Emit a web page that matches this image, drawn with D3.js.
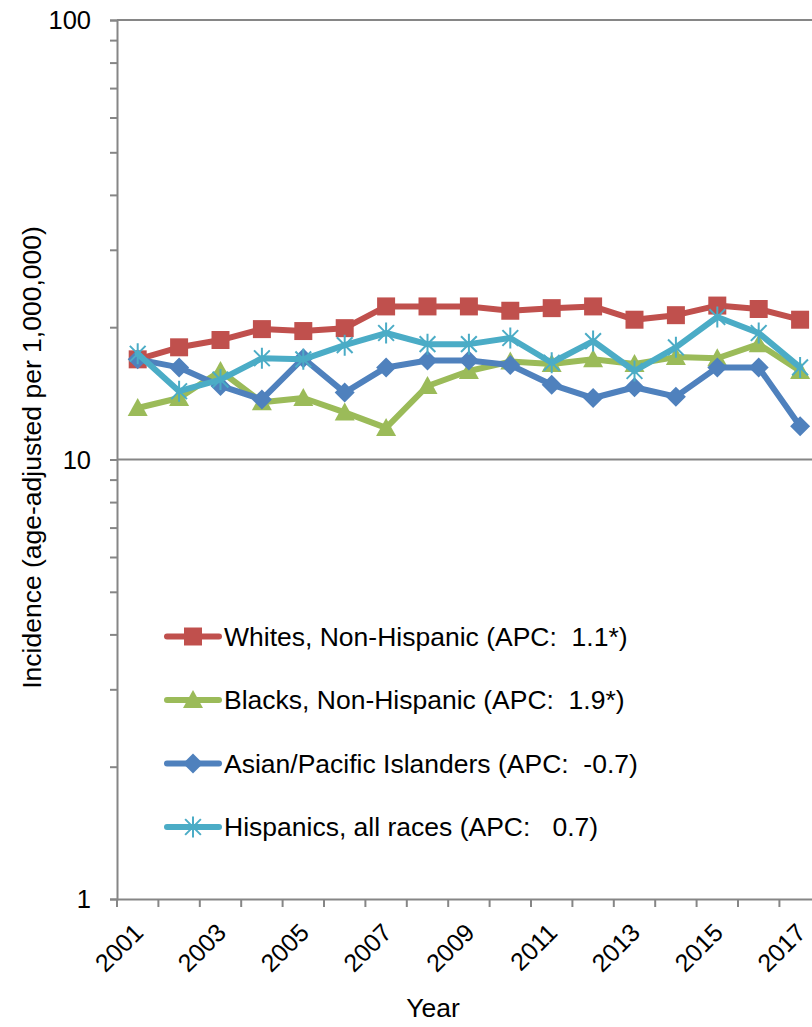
<!DOCTYPE html>
<html>
<head>
<meta charset="utf-8">
<script src="https://cdn.jsdelivr.net/npm/d3@7/dist/d3.min.js"></script>
<style>
  html, body { margin: 0; padding: 0; background: #fff; }
  svg { display: block; font-family: "Liberation Sans", Arial, sans-serif; }
  text { white-space: pre; }
</style>
</head>
<body>
<svg id="chart" width="812" height="1027"></svg>
<script>
// Years on the category axis
const years = [2001, 2002, 2003, 2004, 2005, 2006, 2007, 2008, 2009, 2010, 2011, 2012, 2013, 2014, 2015, 2016, 2017];

// Age-adjusted incidence per 1,000,000 by group
const whites    = [16.9, 18.0, 18.7, 19.8, 19.6, 19.9, 22.3, 22.3, 22.3, 21.8, 22.1, 22.3, 20.8, 21.3, 22.4, 22.0, 20.8];
const blacks    = [13.1, 13.8, 15.9, 13.5, 13.8, 12.8, 11.8, 14.7, 15.9, 16.7, 16.5, 16.9, 16.5, 17.1, 17.0, 18.3, 15.9];
const asians    = [16.9, 16.2, 14.7, 13.7, 17.0, 14.2, 16.2, 16.8, 16.8, 16.4, 14.8, 13.8, 14.6, 13.9, 16.2, 16.2, 11.9];
const hispanics = [17.4, 14.3, 15.2, 17.0, 16.9, 18.2, 19.4, 18.3, 18.3, 18.9, 16.6, 18.6, 15.9, 18.0, 21.1, 19.4, 16.2];

const seriesNames = [
  "Whites, Non-Hispanic (APC:  1.1*)",
  "Blacks, Non-Hispanic (APC:  1.9*)",
  "Asian/Pacific Islanders (APC:  -0.7)",
  "Hispanics, all races (APC:   0.7)"
];

// Log axis ticks
const majorTicks = [1, 10, 100];
const minorTicks = [2, 3, 4, 5, 6, 7, 8, 9, 20, 30, 40, 50, 60, 70, 80, 90];

const series = [
  { name: seriesNames[0], values: whites,    color: "#C0504D", marker: "square" },
  { name: seriesNames[1], values: blacks,    color: "#9BBB59", marker: "triangle" },
  { name: seriesNames[2], values: asians,    color: "#4F81BD", marker: "diamond" },
  { name: seriesNames[3], values: hispanics, color: "#4BACC6", marker: "star" }
];

const svg = d3.select("#chart");
const axisColor = "#868686";

const plotLeft = 117, plotTop = 20, plotBottom = 899, step = 41.4;

const x = d3.scaleBand()
  .domain(years)
  .range([plotLeft, plotLeft + step * years.length])
  .padding(0);

const y = d3.scaleLog()
  .domain([1, 100])
  .range([plotBottom, plotTop]);

// Horizontal gridlines at the major decades
svg.append("g")
  .selectAll("line")
  .data(majorTicks.filter(d => d > 1))
  .join("line")
  .attr("x1", plotLeft).attr("x2", 812)
  .attr("y1", d => y(d)).attr("y2", d => y(d))
  .attr("stroke", axisColor).attr("stroke-width", 2);

// Y axis with minor ticks
const yAxis = d3.axisLeft(y)
  .tickValues(majorTicks.concat(minorTicks))
  .tickSize(7)
  .tickPadding(19)
  .tickFormat(d => majorTicks.includes(d) ? String(d) : "");

const gy = svg.append("g").attr("transform", `translate(${plotLeft},0)`).call(yAxis);
gy.select(".domain").attr("stroke", axisColor).attr("stroke-width", 2);
gy.selectAll(".tick line").attr("stroke", axisColor).attr("stroke-width", 2);
gy.selectAll(".tick text")
  .attr("fill", "#000")
  .style("font-size", "25.5px")
  .attr("dy", "0.35em");

// X axis line and category labels
const xAxis = d3.axisBottom(x)
  .tickSize(0)
  .tickPadding(0)
  .tickFormat(d => (d % 2 === 1) ? String(d) : "");

const gx = svg.append("g").attr("transform", `translate(0,${plotBottom})`).call(xAxis);
gx.select(".domain").attr("stroke", axisColor).attr("stroke-width", 2);
gx.selectAll(".tick text")
  .attr("fill", "#000")
  .style("font-size", "25px")
  .attr("text-anchor", "end")
  .attr("y", 0)
  .attr("dy", "0.35em")
  .attr("transform", "translate(1,29) rotate(-45)");

// Tick marks on the category boundaries
const boundaries = years.map(d => x(d)).concat([x(years[years.length - 1]) + x.bandwidth()]);
gx.append("g")
  .selectAll("line")
  .data(boundaries)
  .join("line")
  .attr("x1", d => d).attr("x2", d => d)
  .attr("y1", 0).attr("y2", 8)
  .attr("stroke", axisColor).attr("stroke-width", 2);

// Axis titles
svg.append("text")
  .attr("transform", `translate(41,${(plotTop + plotBottom) / 2 - 2}) rotate(-90)`)
  .attr("text-anchor", "middle")
  .style("font-size", "26.5px")
  .text("Incidence (age-adjusted per 1,000,000)");

svg.append("text")
  .attr("x", 433).attr("y", 1017)
  .attr("text-anchor", "middle")
  .style("font-size", "26.5px")
  .text("Year");

// Marker shapes
function markerPath(type, s) {
  const h = s / 2;
  if (type === "square") return `M${-h},${-h}H${h}V${h}H${-h}Z`;
  if (type === "triangle") return `M0,${-h}L${h},${h * 0.8}L${-h},${h * 0.8}Z`;
  if (type === "diamond") return `M0,${-h}L${h},0L0,${h}L${-h},0Z`;
  // star: vertical stroke plus an X
  const d = h * 0.75;
  return `M0,${-h}V${h}M${-d},${-d}L${d},${d}M${-d},${d}L${d},${-d}`;
}

function drawMarker(g, type, color, size) {
  if (type === "star") {
    g.append("path").attr("d", markerPath(type, size))
      .attr("fill", "none").attr("stroke", color).attr("stroke-width", 2);
  } else {
    g.append("path").attr("d", markerPath(type, size)).attr("fill", color);
  }
}

const markerSize = { square: 18, triangle: 20, diamond: 20, star: 21 };

const cx = d => x(d) + x.bandwidth() / 2;

const line = d3.line()
  .x((v, i) => cx(years[i]))
  .y(v => y(v));

const plot = svg.append("g");
series.forEach(s => {
  const g = plot.append("g");
  g.append("path")
    .datum(s.values)
    .attr("d", line)
    .attr("fill", "none")
    .attr("stroke", s.color)
    .attr("stroke-width", 6)
    .attr("stroke-linejoin", "round")
    .attr("stroke-linecap", "round");
  s.values.forEach((v, i) => {
    const m = g.append("g").attr("transform", `translate(${cx(years[i])},${y(v)})`);
    drawMarker(m, s.marker, s.color, markerSize[s.marker]);
  });
});

// Legend
const legendY = [636.5, 700, 763.5, 827];
const legend = svg.append("g");
series.forEach((s, i) => {
  const g = legend.append("g").attr("transform", `translate(0,${legendY[i]})`);
  g.append("line")
    .attr("x1", 167).attr("x2", 219)
    .attr("y1", 0).attr("y2", 0)
    .attr("stroke", s.color).attr("stroke-width", 6)
    .attr("stroke-linecap", "round");
  const m = g.append("g").attr("transform", "translate(193,0)");
  drawMarker(m, s.marker, s.color, markerSize[s.marker]);
  g.append("text")
    .attr("x", 224).attr("y", 0).attr("dy", "0.35em")
    .style("font-size", "26.5px")
    .text(s.name);
});
</script>
</body>
</html>
